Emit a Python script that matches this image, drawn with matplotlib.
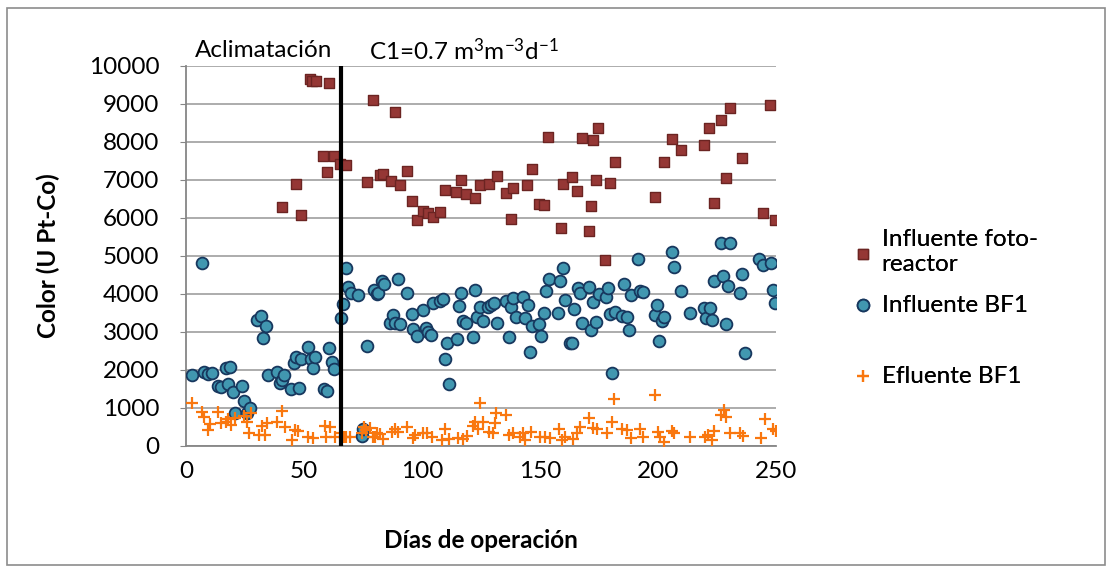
import matplotlib
matplotlib.use("Agg")
import matplotlib.pyplot as plt
from matplotlib.patches import Rectangle

plt.rcParams['font.family'] = ['Lato', 'DejaVu Sans']
plt.rcParams['mathtext.fontset'] = 'custom'
plt.rcParams['mathtext.rm'] = 'Lato'
plt.rcParams['mathtext.it'] = 'Lato:italic'

# Influente foto-reactor (cuadrados)
dias_foto = [40.7, 46.5, 48.6, 52.5, 53.5, 55.0, 58.2, 59.6, 60.6, 62.7, 65.3, 67.7,
             76.6, 79.4, 82.2, 83.6, 86.7, 88.6, 90.7, 93.6, 95.6, 97.7, 100.6, 102.7,
             104.5, 107.6, 109.7, 114.4, 116.5, 118.6, 122.6, 124.6, 128.5, 131.6, 135.6,
             137.7, 138.7, 144.6, 146.6, 149.6, 151.6, 153.5, 158.8, 159.6, 163.7, 165.5,
             167.7, 170.6, 171.6, 172.6, 173.7, 174.7, 177.5, 179.7, 181.8, 198.7, 202.7,
             205.8, 209.6, 219.5, 221.7, 223.6, 226.7, 228.7, 230.6, 235.6, 244.6, 247.6,
             249.6]
color_foto = [6280, 6890, 6080, 9650, 9600, 9600, 7640, 7200, 9560, 7630, 7420, 7400,
              6940, 9100, 7130, 7150, 6980, 8800, 6860, 7240, 6440, 5940, 6180, 6120,
              6030, 6150, 6750, 6680, 6990, 6640, 6520, 6860, 6900, 7100, 6670,
              5970, 6790, 6860, 7300, 6370, 6340, 8140, 5750, 6900, 7090, 6720,
              8100, 5660, 6320, 8060, 7000, 8380, 4890, 6920, 7470, 6560, 7470,
              8080, 7780, 7920, 8360, 6400, 8580, 7060, 8900, 7590, 6120, 8970,
              5960]

# Influente BF1 (circulos)
dias_bf1 = [2.7, 6.6, 7.6, 9.5, 10.9, 13.7, 14.8, 16.8, 17.9, 18.8, 19.8, 20.8, 23.6,
            24.7, 25.7, 27.1, 30.0, 31.6, 32.8, 33.8, 34.6, 38.6, 39.8, 40.5, 41.7, 44.5,
            45.8, 46.8, 47.9, 48.7, 51.7, 53.0, 53.7, 54.7, 58.5, 59.6, 60.7, 61.7, 62.7,
            65.5, 66.7, 67.7, 68.8, 69.8, 72.7, 74.4, 75.1, 76.8, 79.8, 80.8, 81.5, 82.9,
            83.9, 86.4, 87.6, 88.6, 89.7, 90.7, 93.6, 95.6, 96.3, 97.7, 100.6, 101.7,
            102.7, 103.8, 104.8, 107.6, 108.8, 109.7, 110.7, 111.4, 114.7, 115.5, 116.5,
            117.5, 118.6, 121.8, 122.6, 123.4, 124.6, 126.0, 128.1, 129.1, 130.6, 131.6,
            135.5, 136.7, 137.7, 138.7, 139.7, 142.7, 143.8, 144.8, 145.8, 146.6, 149.7,
            150.6, 151.6, 152.5, 153.7, 157.6, 158.6, 159.6, 160.6, 162.7, 163.7, 164.6,
            166.0, 166.8, 167.8, 170.8, 171.6, 172.6, 173.7, 174.9, 177.8, 178.8, 179.7,
            180.6, 181.8, 184.6, 185.7, 186.7, 187.7, 188.6, 191.7, 192.5, 193.8, 198.7,
            199.6, 200.6, 201.7, 202.7, 205.8, 206.8, 209.7, 213.7, 219.5, 220.3, 221.9,
            222.8, 223.6, 226.7, 227.7, 228.7, 229.8, 230.6, 234.7, 235.6, 236.7, 242.7,
            244.6, 247.7, 248.6, 249.7]
color_bf1 = [1860, 4820, 1950, 1890, 1910, 1590, 1550, 2040, 1620, 2080, 1410, 870, 1590,
             1190, 860, 990, 3320, 3420, 2830, 3160, 1880, 1940, 1670, 1750, 1870, 1510,
             2180, 2350, 1530, 2300, 2600, 2300, 2050, 2340, 1510, 1450, 2570, 2210, 2030,
             3360, 3740, 4680, 4190, 4020, 3970, 260, 460, 2640, 4100, 4000, 4020, 4340,
             4260, 3240, 3450, 3230, 4400, 3210, 4020, 3470, 3080, 2890, 3580, 3100,
             3010, 2930, 3760, 3820, 3860, 2300, 2720, 1620, 2820, 3680, 4020,
             3300, 3230, 2880, 4110, 3400, 3670, 3300, 3650, 3700, 3770, 3250,
             3820, 2880, 3650, 3890, 3390, 3930, 3380, 3700, 2480, 3160, 3200,
             2890, 3490, 4080, 4400, 3510, 4330, 4680, 3840, 2720, 2710, 3600,
             4150, 4020, 3230, 4190, 3050, 3800, 3260, 3990, 3910, 4150, 3470,
             1930, 3530, 3420, 4260, 3400, 3050, 3970, 4920, 4080, 4040, 3460,
             3700, 2770, 3290, 3390, 5100, 4700, 4080, 3490, 3640, 3380, 3620,
             3320, 4340, 5330, 4470, 3200, 4220, 5330, 4030, 4530, 2440, 4920,
             4760, 4810, 4100, 3770]

# Efluente BF1 (cruces)
dias_ef = [2.7, 6.6, 7.6, 9.5, 10.2, 13.7, 14.8, 16.8, 17.9, 19.2, 20.8, 24.4, 25.7, 26.8,
           27.5, 31.0, 32.4, 33.4, 34.4, 38.7, 40.5, 42.0, 44.8, 46.2, 47.6, 51.8, 53.9,
           58.8, 59.4, 60.9, 63.0, 65.6, 66.8, 67.9, 69.6, 74.6, 75.6, 76.3, 78.0, 79.1,
           80.1, 80.8, 82.2, 83.6, 87.2, 88.6, 90.0, 93.8, 96.3, 97.0, 100.6, 102.0, 104.1,
           108.3, 109.7, 111.6, 115.4, 117.5, 118.9, 121.8, 122.6, 123.6, 124.6, 126.0,
           128.5, 129.9, 131.0, 131.4, 135.7, 136.7, 138.7, 141.6, 143.0, 143.8, 146.2,
           150.2, 152.3, 154.4, 158.0, 159.4, 160.8, 164.1, 165.5, 166.9, 170.8, 172.6,
           174.0, 178.2, 180.3, 181.4, 184.6, 186.7, 188.6, 192.4, 193.8, 198.7, 199.8,
           200.8, 202.7, 205.8, 206.9, 213.6, 219.8, 221.1, 222.8, 223.7, 226.5, 227.9,
           229.0, 230.7, 234.9, 236.0, 243.6, 245.5, 248.6, 250.0]
color_ef = [1120, 900, 770, 420, 580, 900, 600, 640, 700, 550, 730, 790, 640, 350,
            880, 290, 530, 280, 610, 640, 930, 510, 170, 420, 390, 250, 220,
            530, 250, 510, 250, 350, 250, 230, 250, 330, 510, 420, 480, 230,
            250, 330, 320, 180, 380, 460, 380, 510, 210, 290, 330, 350, 250,
            160, 440, 180, 220, 180, 270, 530, 640, 460, 1120, 640,
            380, 330, 600, 880, 820, 290, 330, 250, 350, 160, 380,
            250, 250, 210, 460, 160, 250, 180, 350, 510, 740, 480,
            440, 350, 640, 1250, 450, 420, 220, 440, 250, 1340, 380,
            250, 110, 400, 330, 230, 250, 290, 160, 400, 820, 950,
            770, 350, 350, 270, 220, 700, 460, 390]

dia_cambio = 65.6
fs = 17.5

fig = plt.figure(figsize=(11.12, 5.69), dpi=100)
ax = fig.add_axes([186/1112, 123/569, 590/1112, 380/569])

# marco exterior del grafico
fig.patches.append(Rectangle((7/1112, 4/569), 1098/1112, 557/569, transform=fig.transFigure,
                             fill=False, edgecolor='#8c8c8c', linewidth=1.2))

ax.scatter(dias_foto, color_foto, marker='s', s=62, facecolor='#953735', edgecolor='#6b2422',
           linewidth=1.0, label='Influente foto-\nreactor', zorder=3)
ax.scatter(dias_bf1, color_bf1, marker='o', s=72, facecolor='#4197b0', edgecolor='#17375e',
           linewidth=1.3, label='Influente BF1', zorder=4)
ax.scatter(dias_ef, color_ef, marker='+', s=70, color='#f9770f', linewidth=1.6,
           label='Efluente BF1', zorder=5)

ax.axvline(dia_cambio, color='black', linewidth=3, zorder=6)

ax.set_xlim(0, 250)
ax.set_ylim(0, 10000)
ax.set_xticks(range(0, 251, 50))
ax.set_yticks(range(0, 10001, 1000))
ax.grid(axis='y', color='#a6a6a6', linewidth=1.3)
ax.set_axisbelow(True)
for lado in ['top', 'right']:
    ax.spines[lado].set_visible(False)
for lado in ['left', 'bottom']:
    ax.spines[lado].set_color('#868686')
    ax.spines[lado].set_linewidth(1.3)
ax.tick_params(axis='y', length=4, color='#868686', pad=15, labelsize=fs)
ax.tick_params(axis='x', length=0, pad=11, labelsize=fs)

ax.set_xlabel('Días de operación', fontsize=fs, fontweight='bold', labelpad=34)
ax.set_ylabel('Color (U Pt-Co)', fontsize=fs, fontweight='bold', labelpad=21)

ax.text(33, 10400, 'Aclimatación', fontsize=fs, ha='center', va='center')
ax.text(77.5, 10400, r'C1=0.7 m$^{3}$m$^{-3}$d$^{-1}$', fontsize=fs, ha='left', va='center')

# leyenda: una entrada por bloque, como en el original
h, l = ax.get_legend_handles_labels()
posiciones = [252, 305, 376]
for i in range(3):
    leg = fig.legend([h[i]], [l[i]], loc='center left',
                     bbox_to_anchor=(850/1112, 1 - posiciones[i]/569),
                     frameon=False, fontsize=fs, handletextpad=0.2, handlelength=1.1,
                     borderaxespad=0, borderpad=0)
    fig.add_artist(leg)

fig.savefig('out.png', dpi=100)
